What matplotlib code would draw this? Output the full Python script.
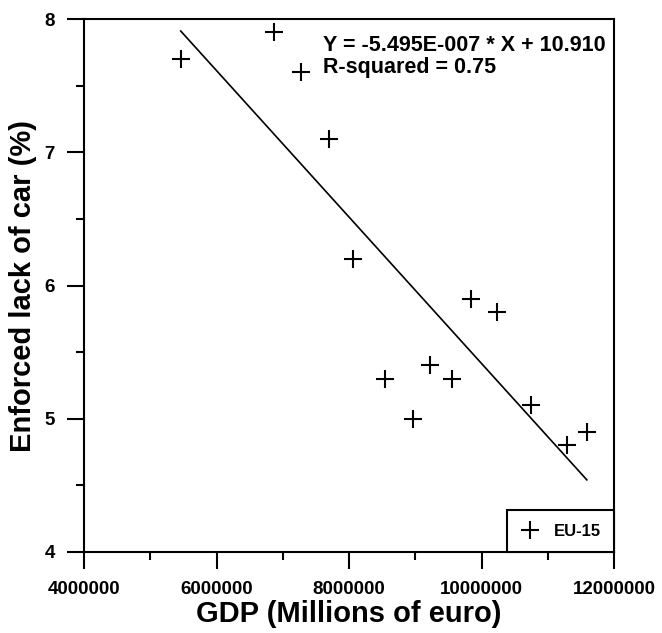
"""
Enforced lack of car vs GDP, EU-15, with linear fit.
"""
import numpy as np
import matplotlib
matplotlib.use("Agg")
import matplotlib.pyplot as plt
from matplotlib.ticker import MultipleLocator, FuncFormatter

# values
gdp = [5460000, 6870000, 7280000, 7700000, 8060000, 8540000, 8960000,
       9220000, 9550000, 9840000, 10240000, 10740000, 11290000, 11590000]
lack_of_car = [7.7, 7.9, 7.6, 7.1, 6.2, 5.3, 5.0,
               5.4, 5.3, 5.9, 5.8, 5.1, 4.8, 4.9]
series_name = "EU-15"
slope = -5.495e-7
intercept = 10.910
r_squared = 0.75

plt.rcParams['font.family'] = ['Liberation Sans', 'DejaVu Sans']
plt.rcParams['font.weight'] = 'bold'

fig = plt.figure(figsize=(6.62, 6.33), dpi=100)
ax = fig.add_axes([84 / 662, 81 / 633, 530 / 662, 533 / 633])

ax.plot(gdp, lack_of_car, linestyle='none', marker='+', color='black',
        markersize=13, markeredgewidth=1.5, label=series_name)

fit_x = np.array([min(gdp), max(gdp)])
ax.plot(fit_x, slope * fit_x + intercept, color='black', linewidth=1.2)

ax.text(0.451, 0.970, f"Y = -5.495E-007 * X + {intercept:.3f}\nR-squared = {r_squared:.2f}",
        transform=ax.transAxes, fontsize=15.5, fontweight='bold',
        va='top', ha='left', linespacing=1.05)

ax.set_xlim(4000000, 12000000)
ax.set_ylim(4, 8)
ax.xaxis.set_major_locator(MultipleLocator(2000000))
ax.xaxis.set_minor_locator(MultipleLocator(1000000))
ax.yaxis.set_major_locator(MultipleLocator(1))
ax.yaxis.set_minor_locator(MultipleLocator(0.5))
ax.xaxis.set_major_formatter(FuncFormatter(lambda v, p: f"{int(round(v))}"))
ax.yaxis.set_major_formatter(FuncFormatter(lambda v, p: f"{int(round(v))}"))

ax.tick_params(which='major', direction='out', length=12, width=1.5,
               labelsize=13.5, pad=9)
ax.tick_params(which='minor', direction='out', length=6, width=1.5)
ax.tick_params(top=False, right=False, which='both')
for lab in ax.get_xticklabels() + ax.get_yticklabels():
    lab.set_fontweight('bold')
for sp in ax.spines.values():
    sp.set_linewidth(1.5)

ax.set_xlabel("GDP (Millions of euro)", fontsize=21, fontweight='bold', labelpad=1)
ax.set_ylabel("Enforced lack of car (%)", fontsize=21, fontweight='bold', labelpad=5)

leg = ax.legend(loc='lower right', borderaxespad=0, fontsize=12,
                handlelength=1.2, handletextpad=0.8, borderpad=0.8,
                fancybox=False, framealpha=1, edgecolor='black')
leg.get_frame().set_linewidth(1.5)
for t in leg.get_texts():
    t.set_fontweight('bold')

fig.savefig("out.png", dpi=100)
